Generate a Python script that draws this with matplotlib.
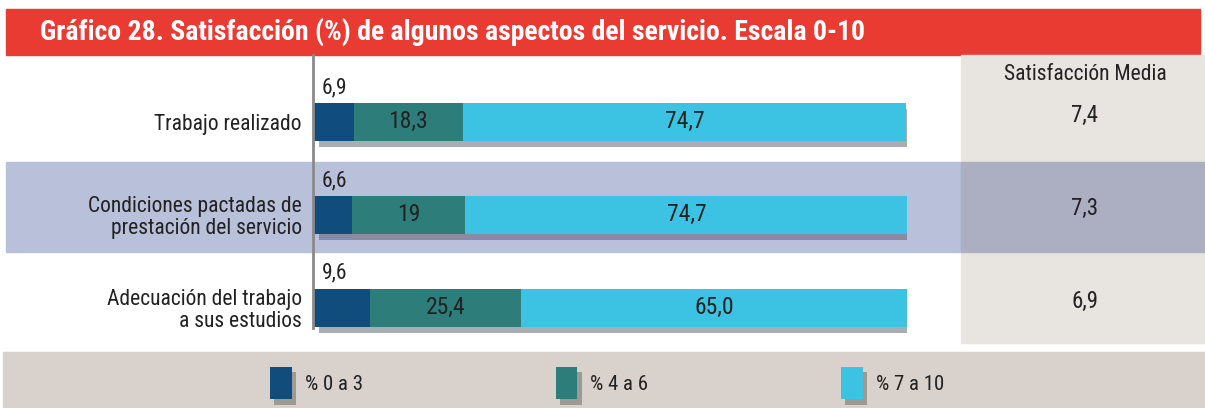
import matplotlib
matplotlib.use("Agg")
import matplotlib.pyplot as plt
from matplotlib import font_manager, transforms
from matplotlib.patches import Rectangle, Patch
import matplotlib.patheffects as pe

# Data
categories = ["Trabajo realizado",
              "Condiciones pactadas de\nprestación del servicio",
              "Adecuación del trabajo\na sus estudios"]
low = [6.9, 6.6, 9.6]        # % 0 a 3
mid = [18.3, 19.0, 25.4]     # % 4 a 6
high = [74.7, 74.7, 65.0]    # % 7 a 10
mid_labels = ["18,3", "19", "25,4"]
high_labels = ["74,7", "74,7", "65,0"]
low_labels = ["6,9", "6,6", "9,6"]
mean_sat = ["7,4", "7,3", "6,9"]
series_names = ["% 0 a 3", "% 4 a 6", "% 7 a 10"]
series_colors = ["#104c7c", "#2d7d7b", "#3cc3e3"]

# Pick a condensed font if available
fonts = font_manager.fontManager.ttflist
names = {f.name for f in fonts}
cands = ["Roboto Condensed", "Archivo Narrow", "Liberation Sans Narrow", "PT Sans Narrow",
         "Fira Sans Condensed", "IBM Plex Sans Condensed", "Encode Sans Condensed",
         "Barlow Condensed", "Liberation Sans"]
narrow = next(c for c in cands if c in names)
bold_ok = [c for c in cands if any(f.name == c and
                                   (f.weight if isinstance(f.weight, int) else 400) >= 700
                                   for f in fonts)]
narrow_bold = bold_ok[0] if bold_ok else narrow
plt.rcParams["font.family"] = [narrow, "DejaVu Sans"]

W, H = 1205, 408
fig = plt.figure(figsize=(W / 100, H / 100), dpi=100)

# Background decorations in pixel coordinates
bg = fig.add_axes([0, 0, 1, 1])
bg.set_xlim(0, W)
bg.set_ylim(H, 0)
bg.axis("off")
bg.add_patch(Rectangle((6, 9), 1194, 46, color="#ea3b33"))
bg.text(40, 32, "Gráfico 28. Satisfacción (%) de algunos aspectos del servicio. Escala 0-10",
        color="white", fontsize=20, fontweight="bold", va="center", ha="left",
        family=[narrow_bold, "DejaVu Sans"])
bg.add_patch(Rectangle((961, 55), 244, 288, color="#e8e4df"))
bg.add_patch(Rectangle((6, 162), 955, 90, color="#b8c0da"))
bg.add_patch(Rectangle((961, 162), 244, 90, color="#acaec2"))
bg.add_patch(Rectangle((3, 352), 1202, 56, color="#d9d1cb"))
bg.text(1085, 75, "Satisfacción Media", fontsize=15.5, color="#222222", ha="center", va="center")

# Bar axes: x 0..100 mapped to pixels 313..907
ax = fig.add_axes([313 / W, (H - 345) / H, 594 / W, 290 / H])
ax.patch.set_alpha(0)
ax.set_xlim(0, 100)
ax.set_ylim(2.40, -0.72)

shadow = [pe.SimplePatchShadow(offset=(4, -4.5), shadow_rgbFace="#5a5a6a", alpha=0.5),
          pe.Normal()]
ypos = range(len(categories))
lefts = [0, 0, 0]
for vals, col in zip([low, mid, high], series_colors):
    ax.barh(ypos, vals, left=lefts, height=0.41, color=col, path_effects=shadow)
    lefts = [a + v for a, v in zip(lefts, vals)]

for i in ypos:
    ax.text(1.5, i - 0.37, low_labels[i], fontsize=15.5, color="#222222", ha="left", va="center")
    ax.text(low[i] + mid[i] / 2, i, mid_labels[i], fontsize=17, color="#222222",
            ha="center", va="center")
    ax.text(low[i] + mid[i] + high[i] / 2, i, high_labels[i], fontsize=17, color="#222222",
            ha="center", va="center")

trans = transforms.blended_transform_factory(fig.transFigure, ax.transData)
for i in ypos:
    ax.text(1085 / W, i - 0.07, mean_sat[i], transform=trans, fontsize=16.5,
            color="#222222", ha="center", va="center")

ax.set_yticks(list(ypos))
ax.set_yticklabels(categories, fontsize=15.5, color="#222222", linespacing=1.05)
ax.tick_params(axis="y", length=0, pad=8)
ax.set_xticks([])
for s in ["top", "right", "bottom"]:
    ax.spines[s].set_visible(False)
ax.spines["left"].set_color("#8a8a8a")
ax.spines["left"].set_linewidth(2)
ax.spines["left"].set_bounds(2.22, -0.72)

# Legend
handles = [Patch(facecolor=c, edgecolor="none",
                 path_effects=[pe.SimplePatchShadow(offset=(3, -4), shadow_rgbFace="#555555",
                                                    alpha=0.45), pe.Normal()])
           for c in series_colors]
fig.legend(handles, series_names, ncol=3, loc="center left",
           bbox_to_anchor=(270 / W, (H - 383) / H), frameon=False, fontsize=15,
           handlelength=1.05, handleheight=2.0, handletextpad=0.62, columnspacing=9.25,
           borderpad=0, borderaxespad=0, labelcolor="#222222")

fig.savefig("out.png", dpi=100)
